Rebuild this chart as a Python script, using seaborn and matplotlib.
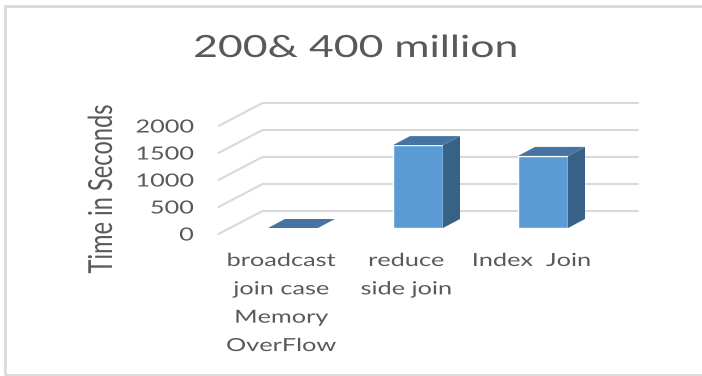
import matplotlib
matplotlib.use("Agg")
import matplotlib.pyplot as plt
import seaborn as sns
from matplotlib import patheffects as pe
from matplotlib.patches import Polygon, Rectangle
from matplotlib.lines import Line2D
from matplotlib.transforms import Affine2D, IdentityTransform


# Data

categories = ["broadcast\njoin case\nMemory\nOverFlow", "reduce\nside join", "Index  Join"]
times = [0, 1535, 1335]
y_ticks = [0, 500, 1000, 1500, 2000]
title = "200& 400 million"
y_label = "Time in Seconds"

TEXT = "#595959"
GRID = "#d9d9d9"
FRONT = "#5b9bd5"
TOP = "#4674a2"
SIDE = "#386187"


# The reference text looks stretched sideways, so stretch the glyphs in x

class Stretch(pe.AbstractPathEffect):
    def __init__(self, sx=1.4, anchor="center"):
        super().__init__()
        self.sx = sx
        self.anchor = anchor

    def draw_path(self, renderer, gc, tpath, affine, rgbFace=None):
        if len(tpath.vertices) == 0:
            return
        xs = affine.transform(tpath.vertices)[:, 0]
        if self.anchor == "right":
            x0 = xs.max()
        elif self.anchor == "left":
            x0 = xs.min()
        else:
            x0 = (xs.min() + xs.max()) / 2
        st = Affine2D().translate(-x0, 0).scale(self.sx, 1).translate(x0, 0)
        renderer.draw_path(gc, tpath, affine + st, rgbFace)


sns.set_style("white")
plt.rcParams["font.family"] = ["Lato", "DejaVu Sans"]

W, H = 702, 376
fig = plt.figure(figsize=(W / 100, H / 100), dpi=100)
ax = fig.add_axes([230.5 / W, (H - 228) / H, 375 / W, 108 / H])

sns.barplot(x=categories, y=times, color=FRONT, saturation=1, width=0.4, ax=ax, zorder=2)
ax.set_xlim(-0.5, 2.5)
ax.set_ylim(0, 2000)
ax.axis("off")

# 3D depth offsets in pixels
BACK = (32, 17)
FRONT_OFF = (-12, -6)
DEPTH = (17, 9)


def disp(x, y, off=(0, 0)):
    px, py = ax.transData.transform((x, y))
    return (px + off[0], py + off[1])


# back wall gridlines and floor diagonals
for v in y_ticks:
    a = disp(-0.5, v, BACK)
    b = disp(2.5, v, BACK)
    c = disp(-0.5, v, FRONT_OFF)
    for p, q in [(a, b), (c, a)]:
        ax.add_line(Line2D([p[0], q[0]], [p[1], q[1]], color=GRID, lw=1.5,
                           transform=IdentityTransform(), clip_on=False, zorder=0.5))
    ax.text(c[0] - 25, c[1], str(v), transform=IdentityTransform(), ha="right",
            va="center_baseline", fontsize=13, color=TEXT,
            path_effects=[Stretch(1.4, "right")])

# top and side faces of the bars
for p in ax.patches:
    x0, w, h = p.get_x(), p.get_width(), p.get_height()
    top = [disp(x0, h), disp(x0 + w, h), disp(x0 + w, h, DEPTH), disp(x0, h, DEPTH)]
    side = [disp(x0 + w, 0), disp(x0 + w, h), disp(x0 + w, h, DEPTH), disp(x0 + w, 0, DEPTH)]
    ax.add_patch(Polygon(side, closed=True, fc=SIDE, ec="none",
                         transform=IdentityTransform(), clip_on=False, zorder=3))
    ax.add_patch(Polygon(top, closed=True, fc=TOP, ec="none",
                         transform=IdentityTransform(), clip_on=False, zorder=3))

# category labels under the front edge
for i, lab in enumerate(categories):
    x, y = disp(i, 0, FRONT_OFF)
    ax.text(x, H - 253, lab, transform=IdentityTransform(), ha="center", va="top",
            fontsize=13, color=TEXT, linespacing=1.95,
            path_effects=[Stretch(1.4)])

fig.text(102 / W, 1 - 189 / H, y_label, rotation=90, ha="center", va="center",
         fontsize=17, color=TEXT, path_effects=[Stretch(1.4)])
fig.text(355 / W, 1 - 57 / H, title, ha="center", va="baseline",
         fontsize=22, color=TEXT, path_effects=[Stretch(1.4)])

# light frame around the chart area
fig.add_artist(Rectangle((5 / W, 1.5 / H), 1.2, 1 - 7.5 / H, transform=fig.transFigure,
                         fill=False, ec=GRID, lw=2))

plt.savefig("out.png", dpi=100)
